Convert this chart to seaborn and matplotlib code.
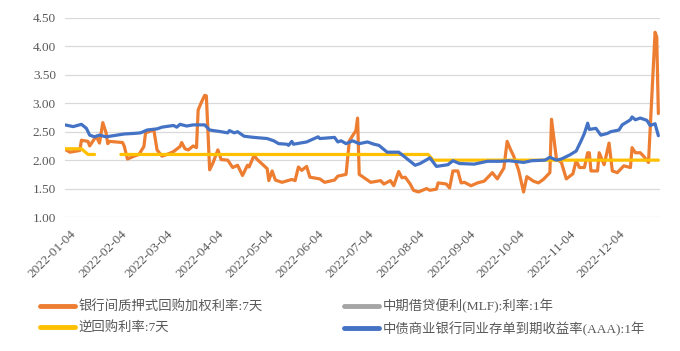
import matplotlib
matplotlib.use('Agg')
import matplotlib.pyplot as plt
from matplotlib.lines import Line2D
from matplotlib.transforms import ScaledTranslation
import seaborn as sns
import pandas as pd

# ---------------- 数据 ----------------
# 银行间质押式回购加权利率:7天
dr007_dates = [
    '2022-01-04', '2022-01-07', '2022-01-13', '2022-01-14', '2022-01-18', '2022-01-19',
    '2022-01-23', '2022-01-25', '2022-01-27', '2022-01-29', '2022-01-30', '2022-01-31',
    '2022-02-08', '2022-02-09', '2022-02-11', '2022-02-15', '2022-02-18', '2022-02-21',
    '2022-02-22', '2022-02-25', '2022-02-27', '2022-03-01', '2022-03-04', '2022-03-07',
    '2022-03-11', '2022-03-15', '2022-03-16', '2022-03-18', '2022-03-20', '2022-03-23',
    '2022-03-25', '2022-03-26', '2022-03-28', '2022-03-30', '2022-03-31', '2022-04-02',
    '2022-04-04', '2022-04-07', '2022-04-09', '2022-04-13', '2022-04-16', '2022-04-19',
    '2022-04-22', '2022-04-25', '2022-04-26', '2022-04-29', '2022-05-01', '2022-05-07',
    '2022-05-08', '2022-05-10', '2022-05-12', '2022-05-16', '2022-05-22', '2022-05-24',
    '2022-05-26', '2022-05-28', '2022-05-31', '2022-06-02', '2022-06-08', '2022-06-11',
    '2022-06-17', '2022-06-19', '2022-06-21', '2022-06-24', '2022-06-26', '2022-06-28',
    '2022-06-30', '2022-07-01', '2022-07-02', '2022-07-05', '2022-07-09', '2022-07-15',
    '2022-07-17', '2022-07-21', '2022-07-23', '2022-07-26', '2022-07-28', '2022-07-30',
    '2022-08-02', '2022-08-04', '2022-08-07', '2022-08-12', '2022-08-14', '2022-08-18',
    '2022-08-19', '2022-08-24', '2022-08-26', '2022-08-28', '2022-08-31', '2022-09-02',
    '2022-09-04', '2022-09-08', '2022-09-12', '2022-09-16', '2022-09-21', '2022-09-24',
    '2022-09-28', '2022-09-30', '2022-10-02', '2022-10-04', '2022-10-07', '2022-10-10',
    '2022-10-12', '2022-10-16', '2022-10-19', '2022-10-22', '2022-10-26', '2022-10-27',
    '2022-10-30', '2022-11-02', '2022-11-05', '2022-11-09', '2022-11-11', '2022-11-13',
    '2022-11-16', '2022-11-18', '2022-11-19', '2022-11-20', '2022-11-24', '2022-11-25',
    '2022-11-28', '2022-12-01', '2022-12-03', '2022-12-06', '2022-12-10', '2022-12-14',
    '2022-12-15', '2022-12-17', '2022-12-20', '2022-12-22', '2022-12-25', '2022-12-29',
    '2022-12-30', '2022-12-31',
]
dr007_values = [
    2.19, 2.14, 2.17, 2.35, 2.33, 2.25,
    2.42, 2.30, 2.66, 2.48, 2.29, 2.33,
    2.31, 2.25, 2.02, 2.07, 2.10, 2.24,
    2.48, 2.51, 2.54, 2.18, 2.07, 2.10,
    2.15, 2.24, 2.31, 2.20, 2.18, 2.25,
    2.22, 2.88, 3.02, 3.14, 3.13, 1.83,
    1.95, 2.18, 2.01, 2.00, 1.87, 1.91,
    1.73, 1.91, 1.88, 2.08, 2.01, 1.85,
    1.64, 1.81, 1.65, 1.61, 1.66, 1.64,
    1.88, 1.82, 1.89, 1.70, 1.67, 1.61,
    1.65, 1.72, 1.73, 1.75, 2.34, 2.43,
    2.52, 2.74, 1.75, 1.69, 1.61, 1.64,
    1.58, 1.64, 1.55, 1.80, 1.69, 1.70,
    1.58, 1.47, 1.44, 1.50, 1.47, 1.49,
    1.60, 1.58, 1.51, 1.81, 1.81, 1.60,
    1.61, 1.55, 1.60, 1.63, 1.78, 1.67,
    1.86, 2.33, 2.19, 2.07, 1.82, 1.44,
    1.71, 1.63, 1.60, 1.66, 1.78, 2.72,
    2.02, 1.96, 1.67, 1.76, 1.99, 1.87,
    1.87, 2.13, 2.13, 1.81, 1.81, 2.13,
    1.92, 2.30, 1.81, 1.78, 1.90, 1.87,
    2.22, 2.13, 2.13, 2.07, 1.96, 4.25,
    4.17, 2.82,
]

# 中期借贷便利(MLF):利率:1年 (月度单点, 图中不连线)
mlf_dates = ['2022-01-17', '2022-02-15', '2022-03-15', '2022-04-15', '2022-05-16', '2022-06-15',
             '2022-07-15', '2022-08-15', '2022-09-15', '2022-10-17', '2022-11-15', '2022-12-15']
mlf_values = [2.85, 2.85, 2.85, 2.85, 2.85, 2.85, 2.85, 2.75, 2.75, 2.75, 2.75, 2.75]

# 逆回购利率:7天 (春节期间断开)
rr_dates = ['2022-01-04', '2022-01-14', '2022-01-18', '2022-01-22',
            '2022-02-07', '2022-08-13', '2022-08-16', '2022-12-31']
rr_values = [2.20, 2.20, 2.10, 2.10, 2.10, 2.10, 2.00, 2.00]
rr_segment = [0, 0, 0, 0, 1, 1, 1, 1]

# 中债商业银行同业存单到期收益率(AAA):1年
cd_dates = [
    '2022-01-04', '2022-01-09', '2022-01-14', '2022-01-17', '2022-01-19', '2022-01-22',
    '2022-01-25', '2022-01-29', '2022-02-09', '2022-02-15', '2022-02-19', '2022-02-23',
    '2022-03-01', '2022-03-04', '2022-03-11', '2022-03-13', '2022-03-15', '2022-03-19',
    '2022-03-23', '2022-03-30', '2022-04-02', '2022-04-09', '2022-04-13', '2022-04-14',
    '2022-04-17', '2022-04-19', '2022-04-23', '2022-04-29', '2022-05-07', '2022-05-11',
    '2022-05-14', '2022-05-19', '2022-05-20', '2022-05-22', '2022-05-23', '2022-05-31',
    '2022-06-07', '2022-06-08', '2022-06-17', '2022-06-19', '2022-06-21', '2022-06-24',
    '2022-06-28', '2022-07-02', '2022-07-07', '2022-07-11', '2022-07-14', '2022-07-19',
    '2022-07-26', '2022-07-30', '2022-08-05', '2022-08-08', '2022-08-14', '2022-08-18',
    '2022-08-25', '2022-08-28', '2022-09-01', '2022-09-10', '2022-09-18', '2022-09-26',
    '2022-10-01', '2022-10-10', '2022-10-15', '2022-10-23', '2022-10-26', '2022-10-30',
    '2022-11-02', '2022-11-07', '2022-11-11', '2022-11-14', '2022-11-16', '2022-11-18',
    '2022-11-19', '2022-11-23', '2022-11-26', '2022-11-30', '2022-12-02', '2022-12-07',
    '2022-12-09', '2022-12-14', '2022-12-15', '2022-12-17', '2022-12-20', '2022-12-24',
    '2022-12-26', '2022-12-29', '2022-12-31',
]
cd_values = [
    2.62, 2.59, 2.63, 2.56, 2.44, 2.41,
    2.44, 2.41, 2.46, 2.47, 2.48, 2.53,
    2.55, 2.58, 2.61, 2.58, 2.63, 2.60,
    2.62, 2.62, 2.53, 2.50, 2.48, 2.52,
    2.48, 2.50, 2.42, 2.40, 2.38, 2.34,
    2.29, 2.28, 2.26, 2.33, 2.28, 2.32,
    2.41, 2.38, 2.40, 2.32, 2.34, 2.29,
    2.34, 2.29, 2.32, 2.28, 2.26, 2.14,
    2.14, 2.05, 1.91, 1.94, 2.04, 1.89,
    1.92, 1.99, 1.94, 1.93, 1.98, 1.98,
    1.99, 1.96, 1.99, 2.00, 2.05, 2.00,
    2.02, 2.09, 2.16, 2.34, 2.47, 2.65,
    2.54, 2.56, 2.44, 2.47, 2.50, 2.53,
    2.62, 2.71, 2.76, 2.71, 2.74, 2.70,
    2.61, 2.64, 2.43,
]

labels = ['银行间质押式回购加权利率:7天', '中期借贷便利(MLF):利率:1年',
          '逆回购利率:7天', '中债商业银行同业存单到期收益率(AAA):1年']
colors = ['#ED7D31', '#A5A5A5', '#FFC000', '#4472C4']

y_ticks = [1.00, 1.50, 2.00, 2.50, 3.00, 3.50, 4.00, 4.50]
x_tick_dates = ['2022-01-04', '2022-02-04', '2022-03-04', '2022-04-04', '2022-05-04', '2022-06-04',
                '2022-07-04', '2022-08-04', '2022-09-04', '2022-10-04', '2022-11-04', '2022-12-04']

# ---------------- 绘图 ----------------
sns.set_theme(style='white')
plt.rcParams['font.family'] = ['Liberation Serif', 'Noto Sans CJK SC']
plt.rcParams['axes.unicode_minus'] = False

df_dr = pd.DataFrame({'date': pd.to_datetime(dr007_dates), 'value': dr007_values})
df_mlf = pd.DataFrame({'date': pd.to_datetime(mlf_dates), 'value': mlf_values,
                       'seg': range(len(mlf_dates))})
df_rr = pd.DataFrame({'date': pd.to_datetime(rr_dates), 'value': rr_values, 'seg': rr_segment})
df_cd = pd.DataFrame({'date': pd.to_datetime(cd_dates), 'value': cd_values})

fig = plt.figure(figsize=(6.8, 3.51), dpi=100)
ax = fig.add_axes([65 / 680, 1 - 217 / 351, 595 / 680, 199 / 351])

lw = 2.3
sns.lineplot(data=df_dr, x='date', y='value', color=colors[0], lw=lw, ax=ax, legend=False, zorder=3)
sns.lineplot(data=df_mlf, x='date', y='value', units='seg', estimator=None,
             color=colors[1], lw=lw, ax=ax, legend=False, zorder=4)
sns.lineplot(data=df_rr, x='date', y='value', units='seg', estimator=None,
             color=colors[2], lw=lw, ax=ax, legend=False, zorder=5)
sns.lineplot(data=df_cd, x='date', y='value', color=colors[3], lw=lw, ax=ax, legend=False, zorder=6)

ax.set_ylim(1.0, 4.5)
ax.set_xlim(pd.Timestamp('2022-01-04'), pd.Timestamp('2023-01-01'))
ax.set_yticks(y_ticks)
ax.set_yticklabels([f'{v:.2f}' for v in y_ticks])
ax.set_xticks(pd.to_datetime(x_tick_dates))
ax.set_xticklabels(x_tick_dates, rotation=45, ha='right', rotation_mode='anchor')

ax.grid(axis='y', color='#D9D9D9', lw=0.9)
ax.set_axisbelow(True)
for s in ax.spines.values():
    s.set_visible(False)
ax.tick_params(axis='both', length=0, colors='#595959', labelsize=9.5)
ax.tick_params(axis='y', pad=6.5)
ax.tick_params(axis='x', pad=8)
ax.set_xlabel('')
ax.set_ylabel('')

# Excel 风格：日期标签略微右移
shift = ScaledTranslation(5 / 100, 0, fig.dpi_scale_trans)
for lab in ax.get_xticklabels():
    lab.set_transform(lab.get_transform() + shift)

handles = [Line2D([0], [0], color=c, lw=3.5) for c in colors]
order = [0, 2, 1, 3]
fig.legend([handles[i] for i in order], [labels[i] for i in order],
           ncol=2, loc='upper left', bbox_to_anchor=(40 / 680, 1 - 299 / 351),
           frameon=False, fontsize=9.6, handlelength=2.6, handletextpad=0.3,
           columnspacing=6.1, labelspacing=0.6, labelcolor='#595959',
           borderaxespad=0, borderpad=0)

fig.savefig('out.png', dpi=100)
